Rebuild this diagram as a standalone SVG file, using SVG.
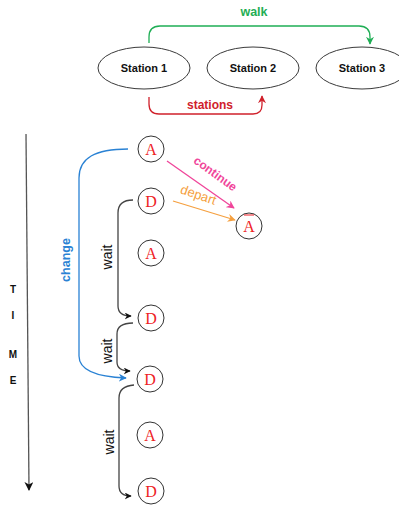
<svg xmlns="http://www.w3.org/2000/svg" width="399" height="505" viewBox="0 0 399 505">
  <style>
    .station { fill: #ffffff; stroke: #3a3a3a; stroke-width: 1; }
    .st-label { font-family: "Liberation Sans", Arial, sans-serif; font-weight: bold; font-size: 11px; fill: #111; text-anchor: middle; }
    .ev { fill: #ffffff; stroke: #333; stroke-width: 1; }
    .ev-label { font-family: "Liberation Serif", "Times New Roman", serif; font-size: 16px; fill: #ee1c25; text-anchor: middle; }
    .edge { fill: none; stroke-width: 1.3; }
    .wait { stroke: #444; }
    .lbl { font-family: "Liberation Sans", Arial, sans-serif; text-anchor: middle; }
    .time { font-family: "Liberation Sans", Arial, sans-serif; font-weight: bold; font-size: 10px; fill: #111; text-anchor: middle; }
  </style>
  <defs>
    <marker id="ah-black" viewBox="0 0 10 10" refX="9" refY="5" markerWidth="7" markerHeight="7" markerUnits="userSpaceOnUse" orient="auto">
      <path d="M0,0 L10,5 L0,10 L3,5 Z" fill="#111"/>
    </marker>
    <marker id="ah-axis" viewBox="0 0 10 10" refX="9" refY="5" markerWidth="9" markerHeight="9" markerUnits="userSpaceOnUse" orient="auto">
      <path d="M0,0 L10,5 L0,10 L3,5 Z" fill="#111"/>
    </marker>
    <marker id="ah-green" viewBox="0 0 10 10" refX="9" refY="5" markerWidth="8" markerHeight="8" markerUnits="userSpaceOnUse" orient="auto">
      <path d="M0,0 L10,5 L0,10 L3,5 Z" fill="#1fae55"/>
    </marker>
    <marker id="ah-red" viewBox="0 0 10 10" refX="9" refY="5" markerWidth="8" markerHeight="8" markerUnits="userSpaceOnUse" orient="auto">
      <path d="M0,0 L10,5 L0,10 L3,5 Z" fill="#d0212b"/>
    </marker>
    <marker id="ah-blue" viewBox="0 0 10 10" refX="9" refY="5" markerWidth="8" markerHeight="8" markerUnits="userSpaceOnUse" orient="auto">
      <path d="M0,0 L10,5 L0,10 L3,5 Z" fill="#2a82d4"/>
    </marker>
    <marker id="ah-pink" viewBox="0 0 10 10" refX="9" refY="5" markerWidth="8" markerHeight="8" markerUnits="userSpaceOnUse" orient="auto">
      <path d="M0,0 L10,5 L0,10 L3,5 Z" fill="#f0459a"/>
    </marker>
    <marker id="ah-orange" viewBox="0 0 10 10" refX="9" refY="5" markerWidth="8" markerHeight="8" markerUnits="userSpaceOnUse" orient="auto">
      <path d="M0,0 L10,5 L0,10 L3,5 Z" fill="#f5a040"/>
    </marker>
  </defs>

  <!-- stations -->
  <g id="station1">
    <ellipse class="station" cx="144" cy="68" rx="46" ry="21"/>
    <text class="st-label" x="144" y="72">Station 1</text>
  </g>
  <g id="station2">
    <ellipse class="station" cx="253" cy="68" rx="46" ry="21"/>
    <text class="st-label" x="253" y="72">Station 2</text>
  </g>
  <g id="station3">
    <ellipse class="station" cx="362" cy="68" rx="46" ry="21"/>
    <text class="st-label" x="362" y="72">Station 3</text>
  </g>

  <!-- events -->
  <g id="a1"><circle class="ev" cx="151" cy="149" r="13"/><text class="ev-label" x="151" y="155">A</text></g>
  <g id="d1"><circle class="ev" cx="151" cy="201" r="13"/><text class="ev-label" x="151" y="207">D</text></g>
  <g id="a2"><circle class="ev" cx="151" cy="253" r="13"/><text class="ev-label" x="151" y="259">A</text></g>
  <g id="d2"><circle class="ev" cx="151" cy="318" r="13"/><text class="ev-label" x="151" y="324">D</text></g>
  <g id="d3"><circle class="ev" cx="150" cy="379" r="13"/><text class="ev-label" x="150" y="385">D</text></g>
  <g id="a3"><circle class="ev" cx="150" cy="435" r="13"/><text class="ev-label" x="150" y="441">A</text></g>
  <g id="d4"><circle class="ev" cx="151" cy="491" r="13"/><text class="ev-label" x="151" y="497">D</text></g>
  <g id="abar">
    <circle class="ev" cx="249" cy="226" r="13"/>
    <text class="ev-label" x="249" y="232">A</text>
    <line x1="244" y1="215" x2="254" y2="215" stroke="#ee1c25" stroke-width="1"/>
  </g>

  <!-- time axis -->
  <g id="time-axis">
    <line x1="26" y1="134" x2="29" y2="490" stroke="#555" stroke-width="1.3" marker-end="url(#ah-axis)"/>
    <text class="time" x="13" y="293">T</text>
    <text class="time" x="13" y="319">I</text>
    <text class="time" x="13" y="358">M</text>
    <text class="time" x="13" y="384">E</text>
  </g>

  <!-- connectors -->
  <g id="connectors">
    <path class="edge" stroke="#1fae55" d="M149,43 L149,37 Q149,26 160,26 L359,26 Q370,26 370,37 L370,44" marker-end="url(#ah-green)"/>
    <text class="lbl" x="254" y="16" font-size="12.5" font-weight="bold" fill="#1fae55">walk</text>

    <path class="edge" stroke="#d0212b" d="M149,97 L149,104 Q149,114 159,114 L253,114 Q262,114 262,105 L262,96" marker-end="url(#ah-red)"/>
    <text class="lbl" x="210" y="109" font-size="12" font-weight="bold" fill="#d0212b">stations</text>

    <path class="edge" stroke="#2a82d4" d="M128,149 C95,149 79,158 79,178 L79,356 C79,372 100,377 126,378" marker-end="url(#ah-blue)"/>
    <text class="lbl" x="0" y="0" font-size="12.5" font-weight="bold" fill="#2a82d4" transform="translate(70,260) rotate(-90)">change</text>

    <path class="edge wait" d="M133,200 Q118,200 118,213 L118,306 Q118,316 131,316" marker-end="url(#ah-black)"/>
    <text class="lbl" x="0" y="0" font-size="14" fill="#111" transform="translate(112,257) rotate(-90)">wait</text>

    <path class="edge wait" d="M133,323 Q117,323 117,334 L117,362 Q117,371 130,371" marker-end="url(#ah-black)"/>
    <text class="lbl" x="0" y="0" font-size="14" fill="#111" transform="translate(112,351) rotate(-90)">wait</text>

    <path class="edge wait" d="M134,385 Q119,386 119,398 L119,486 Q119,496 131,496" marker-end="url(#ah-black)"/>
    <text class="lbl" x="0" y="0" font-size="14" fill="#111" transform="translate(114,442) rotate(-90)">wait</text>

    <path class="edge" stroke="#f0459a" d="M167,161 L234,208" marker-end="url(#ah-pink)"/>
    <text class="lbl" x="0" y="0" font-size="12" font-weight="bold" fill="#f0459a" transform="translate(213,177) rotate(36)">continue</text>

    <path class="edge" stroke="#f5a040" d="M173,201 L235,220" marker-end="url(#ah-orange)"/>
    <text class="lbl" x="0" y="0" font-size="13" fill="#f5a040" transform="translate(197,199) rotate(19)">depart</text>
  </g>
</svg>
